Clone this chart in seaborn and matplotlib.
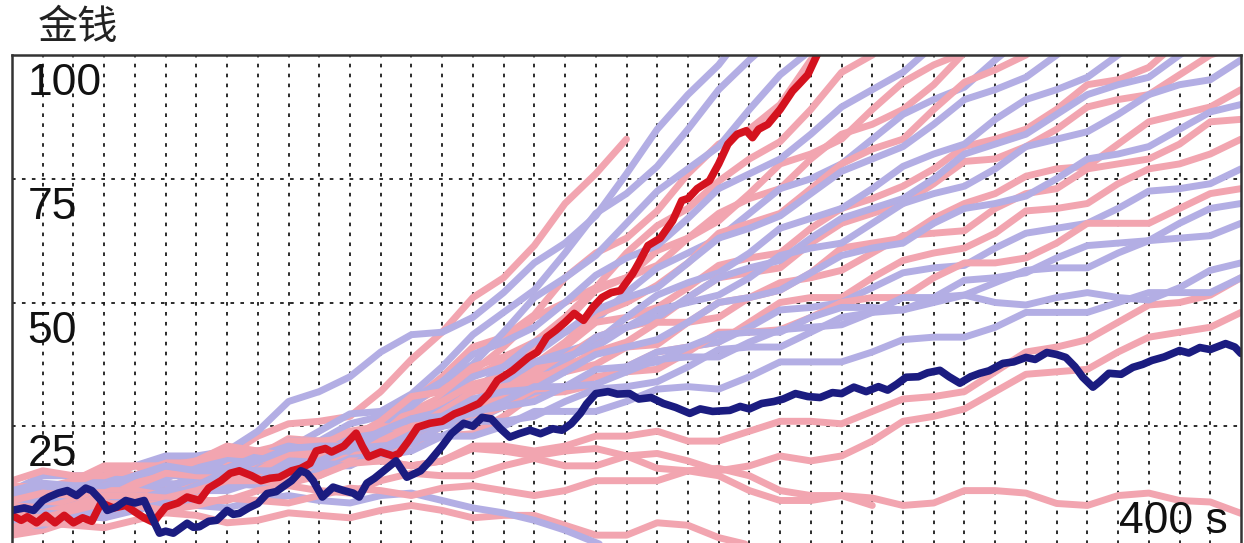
import matplotlib
matplotlib.use('Agg')
import matplotlib.pyplot as plt
import seaborn as sns

# time grid (s) for the background runs
T = list(range(0, 401, 10))

# background runs, values read at every 10 s (a run stops where its list stops)
pink_runs = [
    [8, 11.5, 12, 12.5, 15, 18.5, 18, 19, 23, 25.5, 26, 27, 32, 38.5, 44, 51, 55, 61.5, 70, 76, 83],
    [9, 8.5, 11, 13.5, 14, 12.5, 15, 17.5, 19, 21.5, 21, 22.5, 26, 30, 35, 41, 43, 47.5, 55, 60, 63, 68.5,
     76, 82, 85, 90, 99, 105, 109],
    [11, 12.5, 13, 15, 14, 14.5, 17, 17.5, 19, 22.5, 22, 21.5, 24, 29.5, 33, 36, 41, 47, 50, 53, 60, 65.5,
     69, 74.5, 79, 82.5, 89, 96.5, 100, 106.5, 110],
    [5, 8.5, 8, 7.5, 10, 13, 14, 14, 16, 19.5, 20, 19.5, 23, 28, 31, 35, 38, 40.5, 46, 52.5, 55, 60.5, 63,
     66.5, 72, 78, 80, 83, 89, 94.5, 98, 100.5, 107],
    [13, 12.5, 14, 17, 17, 15.5, 18, 20, 20, 21.5, 22, 22.5, 26, 31, 32, 37, 39, 42, 47, 53, 55, 57.5, 63,
     68, 71, 73, 79, 84, 86, 89, 94, 100.5, 103],
    [4, 6.5, 7, 6.5, 9, 12.5, 12, 12.5, 15, 16.5, 17, 20.5, 21, 22, 27, 32, 35, 37.5, 42, 47.5, 50, 53.5, 58,
     64, 66, 68, 73, 78, 81, 83, 89, 94.5, 97, 100, 105],
    [12, 11.5, 14, 16.5, 15, 15.5, 18, 19.5, 19, 22, 22, 20.5, 23, 27, 30, 33.5, 35, 36.5, 41, 46, 47, 49,
     53, 57.5, 59, 60, 65, 69, 71, 73.5, 77, 81.5, 83, 85, 89, 94, 95, 97.5, 103],
    [10, 12.5, 11, 11.5, 14, 16, 15, 14.5, 18, 19.5, 19, 21.5, 23, 23.5, 27, 32.5, 34, 35.5, 39, 43, 45,
     46.5, 51, 55, 56, 57, 62, 66, 68, 70, 74, 78.5, 79, 81.5, 85, 89.5, 91, 92, 96, 100, 102],
    [6, 6, 8, 11, 11, 10, 13, 15.5, 16, 16, 17, 21, 21, 21.5, 25, 29, 31, 35, 36, 37.5, 41, 41.5, 46, 50,
     51, 52.5, 56, 61, 62, 63, 67, 70, 72, 75.5, 77, 77.5, 82, 86.5, 88, 89.5, 93],
    [14, 16, 15, 15, 17, 17, 18, 21, 20, 19, 21, 24, 25, 24.5, 28, 32, 33, 34, 37, 40, 42, 46, 46, 47, 51,
     54, 55, 56.5, 60, 63.5, 64, 64.5, 69, 72, 73, 77, 78, 79, 82, 86.5, 87],
    [3, 4, 6, 9.5, 9, 9, 11, 14.5, 15, 13.5, 16, 18.5, 19, 21.5, 23, 23.5, 27, 31.5, 32, 33.5, 37, 40, 41,
     42, 46, 50, 51, 51, 55, 58.5, 60, 61, 64, 68.5, 69, 70, 74, 77, 78, 80, 83],
    [10, 11.5, 11, 10.5, 13, 15.5, 15, 14.5, 16, 19.5, 19, 18.5, 22, 25, 26, 26.5, 29, 32.5, 33, 35, 36,
     36.5, 40, 44, 44, 44.5, 47, 50, 51, 51, 55, 58, 58, 59, 62, 66, 66, 66, 69, 72, 73],
    [9, 8.5, 10, 12, 12, 11, 13, 15.5, 15, 14, 15, 18, 18, 17, 18, 21, 21, 20, 21, 23, 23, 24, 22, 22, 24,
     26, 26, 25.5, 28, 30.5, 31, 32, 36, 40, 41, 42.5, 46, 49.5, 50, 51.5, 55],
    [5, 7, 7, 7, 9, 11, 10, 10, 12, 13, 12, 11.5, 14, 15.5, 15, 15, 17, 18.5, 17, 17, 19, 19.5, 18, 16, 17,
     19, 18, 19, 22, 26, 27, 28.5, 32, 35.5, 36, 36.5, 40, 43, 44, 45, 48],
    [4, 5.5, 5, 4.5, 6, 7.5, 7, 5.5, 6, 7.5, 7, 6.5, 8, 9, 8, 6.5, 7, 7, 5, 3, 3, 5.5, 5, 2.5, 1],
    [8, 7.5, 9, 11, 11, 10.5, 12, 14, 14, 13.5, 15, 17.5, 18, 17, 18, 20.5, 20, 19, 20, 20.5, 19, 16.5, 16,
     16.5, 15, 12, 11, 11, 9],
    [7, 6.5, 8, 9.5, 9, 8, 9, 10.5, 10, 9.5, 11, 12.5, 12, 11, 12.5, 13, 12, 11, 12, 14, 14, 14, 16, 15, 12,
     10, 10, 11, 10.5, 9, 9.5, 12, 12, 11.5, 9.4, 9, 11, 11.5, 10, 9.7, 7.4],
]

lavender_runs = [
    [12, 15, 15, 15, 17, 19, 19, 20, 24, 30, 32, 35, 40, 43.5, 44, 47, 52, 58, 62, 67.5, 76, 85, 92, 98, 106],
    [10, 10, 12, 15, 15, 15, 17, 19.5, 20, 20.5, 24, 27.5, 28, 31.5, 37, 43.5, 48, 52.5, 60, 68, 72, 77.5,
     85, 93, 99, 104.5, 112],
    [6, 8.5, 9, 9, 12, 15, 16, 16.5, 19, 22, 22, 22.5, 25, 30.5, 34, 37.5, 44, 51, 55, 59.5, 66, 72.5, 77,
     81.5, 89, 96, 101],
    [7, 7.5, 10, 12.5, 13, 12.5, 15, 18.5, 19, 19.5, 22, 25.5, 27, 29, 34, 39.5, 42, 45, 50, 55.5, 59, 61.5,
     67, 73, 76, 79, 84, 89.5, 93, 96.5, 102],
    [9, 11.5, 11, 11, 13, 15.5, 16, 15.5, 17, 20, 20, 19.5, 22, 26.5, 29, 32, 37, 42, 44, 46.5, 52, 57, 60,
     63, 68, 73, 75, 78, 83, 88, 91, 93.5, 99, 104, 107],
    [10, 10, 12, 14.5, 14, 14.5, 17, 18.5, 18, 18, 21, 23.5, 24, 26, 30, 35, 37, 39.5, 44, 48.5, 51, 53, 58,
     63, 65, 67.5, 72, 76.5, 79, 81.5, 86, 91, 93, 95.5, 100, 104.5, 107],
    [8, 10, 10, 10, 12, 15, 15, 14, 16, 18, 18, 18.5, 21, 25.5, 27, 29.5, 34, 38, 40, 42, 47, 51.5, 54, 56,
     60, 65, 67, 69, 73, 77.5, 80, 82, 87, 91, 93, 95.5, 100, 104, 106],
    [7, 6.5, 9, 11, 11, 11.5, 14, 16, 15, 15.5, 18, 20, 20, 21.5, 26, 30, 32, 34, 38, 43, 45, 47, 51, 55,
     57, 58.5, 63, 67, 69, 71, 75, 80, 82, 84, 88, 92, 94, 95.5, 100, 104, 106],
    [11, 12.5, 12, 12, 15, 16.5, 16, 16.5, 19, 21, 20, 20.5, 23, 26.5, 28, 29.5, 34, 38, 39, 41, 45, 48.5,
     50, 51.5, 55, 59.5, 61, 62, 66, 70, 72, 73.5, 77, 81.5, 83, 84.5, 88, 92, 94, 95, 99],
    [9, 8.5, 10, 12, 12, 12, 15, 16.5, 16, 16.5, 19, 22, 22, 23.5, 27, 30.5, 32, 32.5, 36, 39.5, 41, 42.5,
     46, 50, 51, 52.5, 56, 59.5, 61, 62, 66, 69, 70, 71.5, 75, 79, 80, 81.5, 85, 88.5, 90],
    [8, 10.5, 10, 10, 12, 13.5, 13, 13, 16, 18, 18, 18.5, 21, 24.5, 25, 26, 29, 32, 33, 33.5, 37, 40, 41,
     42, 45, 48.5, 49, 50, 53, 56, 57, 57.5, 61, 64, 65, 66, 69, 72.5, 73, 74, 77],
    [5, 5, 7, 9.5, 9, 9.5, 12, 13.5, 13, 13, 16, 18.5, 19, 20, 23, 26, 26, 27, 30, 32.5, 33, 34, 37, 40.5,
     41, 41, 44, 47, 48, 48.5, 51, 54.5, 55, 56, 59, 61.5, 62, 62.5, 66, 69, 70],
    [12, 13.5, 13, 13, 15, 17, 16, 16, 18, 20.5, 21, 21, 24, 26.5, 27, 27.5, 30, 33, 33, 33.5, 36, 38.5, 39,
     39, 42, 44.5, 45, 45.5, 48, 51, 51, 51.5, 54, 56.5, 57, 57, 60, 62.5, 63, 63.5, 66],
    [7, 7, 9, 11, 11, 10.5, 13, 16, 16, 16, 18, 20.5, 21, 21.5, 25, 28, 29, 30, 33, 36.5, 37, 38, 41, 43.5,
     44, 44, 47, 49, 49, 48.5, 50, 51.5, 50, 49.5, 51, 52, 51, 50.5, 53, 56.5, 58],
    [6, 8.5, 8, 8, 10, 12, 12, 12, 14, 17, 17, 17, 20, 22.5, 23, 23, 25, 28, 28, 28, 30, 32.5, 33, 32.5, 35,
     38, 38, 38, 40, 42.5, 43, 43, 45, 48, 48, 48, 50, 52, 52, 52, 55],
    [6, 7.5, 7, 6.5, 8, 9.5, 9, 8.5, 10, 11, 10, 9.5, 11, 11.5, 10, 8.5, 7.5, 6, 4, 1.5, -1],
]

# highlighted runs
red_t = [0, 3, 5, 8, 11, 14, 17, 20, 23, 26, 29, 33, 37, 40, 43, 46, 50, 54, 57, 61,
         64, 68, 71, 74, 78, 81, 84, 87, 91, 94, 97, 99, 102, 104, 108, 112, 114, 116, 120, 124,
         126, 129, 132, 136, 140, 144, 147, 152, 155, 158, 163, 168, 171, 174, 177, 180, 183, 186, 189, 192,
         195, 198, 202, 204, 207, 211, 215, 218, 220, 223, 227, 230, 233, 236, 239, 241, 243, 246, 250, 254,
         256, 259, 262, 263]
red_v = [7, 6, 6.7, 5.5, 7, 5.5, 7, 5.5, 6.5, 5.8, 9.5, 8.5, 9, 7.7, 6.5, 5.6, 8.7, 9.5, 10.7, 10,
         12.5, 14, 15.5, 16, 15, 14, 14.5, 14.7, 16, 16.5, 17.5, 20, 20.5, 19.8, 21, 23.6, 21, 18.8, 19.8, 19,
         19.5, 22, 24.8, 25.6, 26, 27.5, 28.2, 29.6, 31.5, 34.3, 36.3, 38.9, 40, 43, 44.4, 46, 47.8, 46.4, 49, 51,
         52, 52.4, 55.8, 58, 61.5, 63, 66.5, 70.6, 71, 73, 74.6, 78, 82, 84, 84.7, 83.3, 85, 86, 89, 92.7,
         94, 96, 100, 101]

navy_t = [0, 4, 7, 10, 12, 15, 18, 21, 24, 26, 29, 31, 34, 37, 40, 43, 46, 48, 50, 52.5,
          55, 57, 59, 61, 64, 66.6, 70, 72, 74, 77, 80, 83, 86, 88, 91, 94, 96, 98, 101, 104.5,
          108, 111, 113, 115.5, 118, 121, 125, 128.5, 133, 136, 140, 143, 147, 150, 153, 156, 159, 162, 165, 168.6,
          172, 176, 179, 182, 185, 187, 190, 194, 197, 201, 204, 208, 212, 216, 220.6, 224, 228, 233.6, 237, 240,
          244, 248, 251, 255, 259, 263, 267, 270, 274, 278, 282, 285, 288, 291, 295, 298, 302, 305, 308.5, 312,
          315, 318, 322.5, 326, 330, 333, 336.8, 340, 343, 346, 348.5, 351.8, 354, 357, 361, 364.8, 368, 371, 375, 380,
          383, 386.6, 390, 395, 398, 400]
navy_v = [8, 8.5, 8, 10, 10.7, 11.5, 12, 11, 12.5, 12, 10, 8, 8.7, 10, 9.5, 10, 6, 3.4, 3.8, 3.4,
          4.5, 5.4, 4.6, 4.7, 5.8, 6, 8, 7.2, 7.4, 8.5, 9.4, 11.4, 11.8, 12.7, 14, 16, 15.5, 14, 10.7, 12.7,
          12, 11.5, 10.7, 13.5, 14.5, 16, 18, 14.7, 16, 18, 21, 23.5, 25.6, 25, 26.8, 26.5, 24.5, 22.8, 23.5, 24.2,
          23.5, 24.5, 24.2, 25.5, 27.6, 29.5, 31.6, 32, 31.5, 31.6, 30.5, 30.8, 29.6, 28.8, 27.6, 28.5, 28, 28.2, 29, 28.5,
          29.6, 30, 30.5, 31.6, 31, 30.8, 31.8, 31.6, 32.9, 32, 33, 32.3, 33.5, 34.9, 35, 35.8, 36.3, 35, 33.7, 35,
          35.7, 36.2, 37.7, 38, 38.9, 38.5, 39.9, 39.5, 38.9, 37, 34.9, 32.9, 34, 35.7, 35.5, 36.9, 37.5, 38.3, 39, 40.3,
          39.8, 40.9, 40.5, 41.7, 41, 39.7]

y_ticks = [100, 75, 50, 25]
y_tick_labels = ['100', '75', '50', '25']

PINK = '#f2a5b0'
LAVENDER = '#b3aee4'
RED = '#d4121e'
NAVY = '#1b1c80'

sns.set_style('white')
plt.rcParams['font.family'] = ['Liberation Sans', 'DejaVu Sans']

fig = plt.figure(figsize=(12.44, 5.43), dpi=100)
ax = fig.add_axes([12 / 1244, -7 / 543, 1229 / 1244, 495 / 543])

# interleave pink and lavender runs
for i in range(max(len(pink_runs), len(lavender_runs))):
    for runs, col in ((pink_runs, PINK), (lavender_runs, LAVENDER)):
        if i < len(runs):
            vals = runs[i]
            sns.lineplot(x=T[:len(vals)], y=vals, color=col,
                         estimator=None, sort=False, legend=False, ax=ax)
            ax.lines[-1].set_linewidth(5.0)

for xs, ys, col in ((red_t, red_v, RED), (navy_t, navy_v, NAVY)):
    sns.lineplot(x=xs, y=ys, color=col, estimator=None, sort=False, legend=False, ax=ax)
    ax.lines[-1].set_linewidth(5.5)

ax.set_xlim(0, 400)
ax.set_ylim(0, 100)
ax.set_xticks(range(10, 400, 10))
ax.set_yticks([25, 50, 75])
ax.tick_params(length=0, labelbottom=False, labelleft=False)
ax.grid(True, color='#1a1a1a', linestyle=(0, (2, 3.5)), linewidth=1.3)
ax.set_axisbelow(True)
ax.set_xlabel('')
ax.set_ylabel('')
for s in ['left', 'top', 'right']:
    ax.spines[s].set_color('#333333')
    ax.spines[s].set_linewidth(1.8)
ax.spines['bottom'].set_visible(False)

# tick labels sit inside the plot, just under each gridline
for val, lab in zip(y_ticks, y_tick_labels):
    ax.text(5.0, val - 5.8, lab, fontsize=32, ha='left', va='center', color='#111111')
ax.text(395.7, 5.8, '400 s', fontsize=32, ha='right', va='center', color='#111111')

fig.text(38 / 1244, 1 - 28 / 543, '金钱', fontsize=29, ha='left', va='center',
         family=['Noto Sans CJK SC', 'DejaVu Sans'], color='#222222')

fig.savefig('out.png', dpi=100)
